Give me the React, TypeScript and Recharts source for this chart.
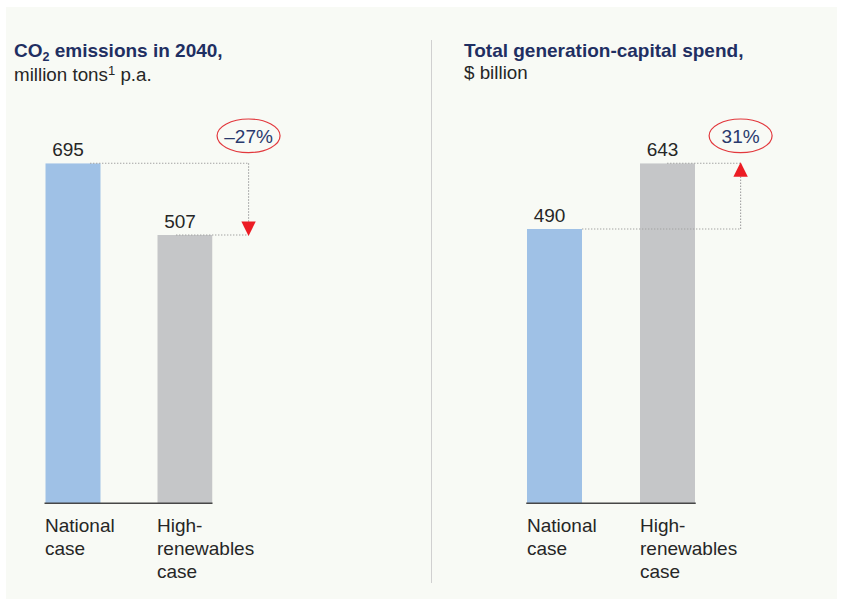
import React from 'react';
import {
  BarChart,
  Bar,
  XAxis,
  YAxis,
  Cell,
  LabelList,
  ReferenceLine,
  ReferenceDot
} from 'recharts';

// categories shared by both panels
const cases = ['National case', 'High-renewables case'];
const caseLines = [['National', 'case'], ['High-', 'renewables', 'case']];
const caseColors = ['#9fc1e6', '#c5c6c8'];

// CO2 emissions in 2040, million tons p.a.
const co2Values = [695, 507];
const co2Change = '–27%';

// total generation-capital spend, $ billion
const capexValues = [490, 643];
const capexChange = '31%';

const FONT = "'Liberation Sans', Arial, Helvetica, sans-serif";
const NAVY = '#1f2f62';
const INK = '#262626';
const DOTS = '#a2a2a2';
const RED = '#ec1c24';

const BAR = 55;
const PLOT_TOP = 163.3;
const PLOT_BOTTOM = 503.3;
const CHART_H = 600;
const AXIS_H = 80;
const X_DOMAIN: [number, number] = [-0.25, 1.25];

type Note = { x: number; fromStart: number; toStart: number };

const CaseTick = (props: any) => {
  const { x, y, payload } = props;
  const lines = caseLines[payload.value] ?? [];
  const left = x - BAR / 2;
  return (
    <text x={left} y={y} fill={INK} fontSize={19} fontFamily={FONT}>
      {lines.map((line, i) => (
        <tspan key={i} x={left} y={y + 28.4 + i * 23.2}>{line}</tspan>
      ))}
    </text>
  );
};

// value sits a touch left of the bar centre in the original
const ValueLabel = (p: any) => (
  <text
    x={p.x + p.width / 2 - 5}
    y={p.y - 7}
    textAnchor="middle"
    fill={INK}
    fontSize={19}
    fontFamily={FONT}
  >
    {p.value}
  </text>
);

interface ChartProps {
  values: number[];
  change: string;
  floor: number; // the pictured bars sit on a cut axis
  width: number;
  center0: number;
  unit: number;
  note: Note;
}

function ComparisonChart({ values, change, floor, width, center0, unit, note }: ChartProps) {
  const rows = cases.map((name, i) => ({ name, pos: i, value: values[i] }));
  const top = Math.max(...values);
  const plotLeft = center0 + X_DOMAIN[0] * unit;
  const plotRight = center0 + X_DOMAIN[1] * unit;
  const dir = values[1] < values[0] ? 1 : -1; // +1 arrow points down on screen

  const Arrow = (p: any) => {
    const tip = p.cy + dir * 1;
    const base = tip - dir * 14.5;
    return <path d={`M${p.cx - 7.2},${base} L${p.cx + 7.2},${base} L${p.cx},${tip} Z`} fill={RED} />;
  };

  const Badge = (p: any) => {
    const cy = p.cy - 27.5;
    return (
      <g>
        <ellipse cx={p.cx} cy={cy} rx={31.5} ry={16.8} fill="none" stroke="#e2383d" strokeWidth={1.2} />
        <text x={p.cx} y={cy + 6.8} textAnchor="middle" fontSize={19} fontFamily={FONT} fill="#29396d">
          {change}
        </text>
      </g>
    );
  };

  const dotted = { stroke: DOTS, strokeWidth: 1.1, strokeDasharray: '1.4 1.6', ifOverflow: 'visible' as const };

  return (
    <BarChart
      width={width}
      height={CHART_H}
      data={rows}
      margin={{
        top: PLOT_TOP,
        left: plotLeft,
        right: width - plotRight,
        bottom: CHART_H - PLOT_BOTTOM - AXIS_H
      }}
    >
      <XAxis
        type="number"
        dataKey="pos"
        domain={X_DOMAIN}
        ticks={[0, 1]}
        allowDataOverflow
        interval={0}
        height={AXIS_H}
        axisLine={{ stroke: '#474747', strokeWidth: 1.6 }}
        tickLine={false}
        tickSize={0}
        tickMargin={0}
        tick={<CaseTick />}
      />
      <YAxis hide type="number" domain={[floor, top]} allowDataOverflow />
      <Bar dataKey={(d: any) => [floor, d.value]} barSize={BAR} isAnimationActive={false}>
        {rows.map((r, i) => (
          <Cell key={r.name} fill={caseColors[i]} />
        ))}
        <LabelList dataKey="value" content={ValueLabel} />
      </Bar>
      <ReferenceLine {...dotted} segment={[{ x: note.fromStart, y: values[0] }, { x: note.x, y: values[0] }]} />
      <ReferenceLine {...dotted} segment={[{ x: note.toStart, y: values[1] }, { x: note.x, y: values[1] }]} />
      <ReferenceLine {...dotted} segment={[{ x: note.x, y: values[0] }, { x: note.x, y: values[1] }]} />
      <ReferenceDot x={note.x} y={values[1]} r={1} ifOverflow="visible" shape={Arrow} />
      <ReferenceDot x={note.x} y={top} r={1} ifOverflow="visible" shape={Badge} />
    </BarChart>
  );
}

const titleStyle: React.CSSProperties = {
  fontWeight: 'bold',
  fontSize: 19,
  lineHeight: '22px',
  color: NAVY,
  whiteSpace: 'nowrap'
};
const subStyle: React.CSSProperties = {
  fontSize: 18.8,
  lineHeight: '22px',
  color: INK,
  whiteSpace: 'nowrap'
};

export default function App() {
  return (
    <div style={{ position: 'absolute', left: 0, top: 0, width: 842, height: 604, background: '#fff', fontFamily: FONT }}>
      <div style={{ position: 'absolute', left: 6, top: 7, width: 831, height: 592, background: '#f8faf5' }} />
      <div style={{ position: 'absolute', left: 430.5, top: 40, width: 1, height: 543, background: '#d0d0d0' }} />

      <div style={{ position: 'absolute', left: 14, top: 40 }}>
        <div style={titleStyle}>
          CO<span style={{ fontSize: 12.5, position: 'relative', top: 4 }}>2</span> emissions in 2040,
        </div>
        <div style={subStyle}>
          million tons<span style={{ fontSize: 13, position: 'relative', top: -6 }}>1</span> p.a.
        </div>
      </div>

      <div style={{ position: 'absolute', left: 464, top: 40 }}>
        <div style={titleStyle}>Total generation-capital spend,</div>
        <div style={subStyle}>$ billion</div>
      </div>

      <div style={{ position: 'absolute', left: 0, top: 0 }}>
        <ComparisonChart
          values={co2Values}
          change={co2Change}
          floor={-197}
          width={430}
          center0={72.5}
          unit={112}
          note={{ x: 1.572, fromStart: 0.156, toStart: 0.924 }}
        />
      </div>

      <div style={{ position: 'absolute', left: 430, top: 0 }}>
        <ComparisonChart
          values={capexValues}
          change={capexChange}
          floor={-149}
          width={412}
          center0={124.5}
          unit={113}
          note={{ x: 1.647, fromStart: 0.243, toStart: 0.996 }}
        />
      </div>
    </div>
  );
}
